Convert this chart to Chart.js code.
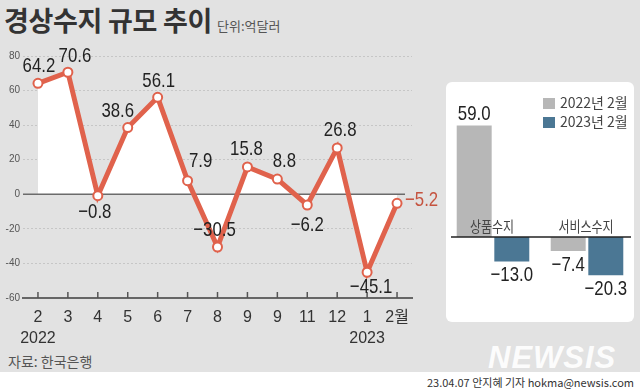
<!DOCTYPE html>
<html>
<head>
<meta charset="utf-8">
<script src="https://cdn.jsdelivr.net/npm/chart.js@4.4.0/dist/chart.umd.min.js"></script>
<style>
body{margin:0;width:640px;height:391px;background:#e2e2e2;position:relative;overflow:hidden;font-family:"Noto Sans CJK KR",sans-serif;}
#title{position:absolute;left:4px;top:1px;font-size:27px;font-weight:700;color:#333;line-height:38px;letter-spacing:-0.3px;white-space:nowrap}
#unit{font-size:13px;font-weight:400;color:#555;margin-left:5px;letter-spacing:0}
#lineChart{position:absolute;left:0;top:40px}
#panel{position:absolute;left:446px;top:82px;width:188px;height:240px;background:#fff;border-radius:6px}
#barChart{position:absolute;left:0;top:0}
#legend{position:absolute;left:97px;top:11px;font-size:14px;color:#444;line-height:19px}
#legend span{display:inline-block;width:12px;height:11px;margin-right:5px;vertical-align:-1px}
#source{position:absolute;left:8px;top:351px;font-size:14px;color:#555}
#footer{position:absolute;left:0;top:372px;width:640px;height:19px;background:#fff}
#credit{position:absolute;right:6px;top:2px;font-size:11px;color:#333;font-family:"Noto Sans CJK KR",sans-serif}
#mark{position:absolute;left:488px;top:340px;font-family:"Liberation Sans",sans-serif;font-weight:700;font-style:italic;font-size:31px;color:rgba(255,255,255,0.92);letter-spacing:1px}
</style>
</head>
<body>
<div id="title">경상수지 규모 추이<span id="unit">단위:억달러</span></div>
<canvas id="lineChart" width="445" height="310"></canvas>
<div id="panel">
  <canvas id="barChart" width="188" height="240"></canvas>
  <div id="legend"></div>
</div>
<div id="source">자료: 한국은행</div>
<div id="mark">NEWSIS</div>
<div id="footer"><div id="credit">23.04.07 안지혜 기자 hokma@newsis.com</div></div>
<script>
'use strict';

// ---- data: current account by month
var months=['2','3','4','5','6','7','8','9','9','11','12','1','2월'];
var years=['2022','','','','','','','','','','','2023',''];
var balance=[64.2,70.6,-0.8,38.6,56.1,7.9,-30.5,15.8,8.8,-6.2,26.8,-45.1,-5.2];
var yTicks=[-60,-40,-20,0,20,40,60,80];

// ---- data: goods / services, Feb
var sectors=['상품수지','서비스수지'];
var periods=['2022년 2월','2023년 2월'];
var feb2022=[59.0,-7.4];
var feb2023=[-13.0,-20.3];

var RED='#e0624c';
var GREY='#b7b7b7';
var BLUE='#4b7794';
var LABEL_FONT='21px "Liberation Sans",sans-serif';

// label placement for each point [dx, dy, align]
var labelOffsets=[[1,-17],[7,-16],[-3,17],[-10,-16],[1,-16],[13,-19],[-3,-17],[-1,-18],[7,-18],[0,20],[3,-18],[4,15],[8,-3,'left']];

function fmt(v){
    return v.toFixed(1).replace('-','−');
}

// condensed text, like the narrow face in the original
function narrowText(ctx,txt,x,y){
    ctx.save();
    ctx.translate(x,y);
    ctx.scale(0.8,1);
    ctx.fillText(txt,0,0);
    ctx.restore();
}

//-------- line chart
var xLabels=months.map(function(m,i){ return years[i] ? [m,years[i]] : m; });

var lineDecor={
    id:'lineDecor',
    beforeDatasetsDraw:function(chart){
        var ctx=chart.ctx, a=chart.chartArea;
        var y0=chart.scales.y.getPixelForValue(0);
        ctx.save();
        ctx.strokeStyle='#6b6b6b';
        ctx.lineWidth=1.5;
        ctx.beginPath(); ctx.moveTo(a.left,y0); ctx.lineTo(a.right-7,y0); ctx.stroke();
        ctx.strokeStyle='#555';
        for(var i=0;i<months.length;i++){
            var px=chart.scales.x.getPixelForValue(i);
            ctx.beginPath(); ctx.moveTo(px,a.bottom); ctx.lineTo(px,a.bottom-6); ctx.stroke();
        }
        ctx.restore();
    },
    afterDatasetsDraw:function(chart){
        var ctx=chart.ctx;
        var meta=chart.getDatasetMeta(0);
        ctx.save();
        ctx.font=LABEL_FONT;
        ctx.textBaseline='middle';
        meta.data.forEach(function(pt,i){
            var o=labelOffsets[i];
            ctx.textAlign=o[2]||'center';
            ctx.fillStyle= i===balance.length-1 ? '#c5533f' : '#222';
            narrowText(ctx,fmt(balance[i]),pt.x+o[0],pt.y+o[1]);
        });
        ctx.restore();
    }
};

var lineChart=new Chart(document.getElementById('lineChart'),{
    type:'line',
    data:{
        labels:xLabels,
        datasets:[{
            data:balance,
            borderColor:RED,
            borderWidth:5,
            backgroundColor:'#ffffff',
            fill:'origin',
            tension:0,
            pointRadius:4.5,
            pointBorderWidth:2,
            pointBorderColor:RED,
            pointBackgroundColor:'#ffffff'
        }]
    },
    options:{
        responsive:false,
        animation:false,
        layout:{padding:{top:16,right:33,left:0,bottom:0}},
        plugins:{legend:{display:false},tooltip:{enabled:false},filler:{drawTime:'beforeDatasetsDraw'}},
        scales:{
            x:{
                offset:true,
                grid:{display:true,drawOnChartArea:false,drawTicks:false},
                border:{display:true,color:'#666',width:2},
                ticks:{color:'#333',font:{size:16,family:'"Liberation Sans","Noto Sans CJK KR",sans-serif',lineHeight:1.3},padding:9,maxRotation:0,autoSkip:false},
                afterFit:function(s){ s.height=52; }
            },
            y:{
                min:-60,max:80,
                afterBuildTicks:function(s){ s.ticks=yTicks.map(function(v){ return {value:v}; }); },
                grid:{color:function(c){ return c.tick && c.tick.value===0 ? 'rgba(0,0,0,0)' : '#c6c6c6'; },drawTicks:false},
                border:{display:false,dash:[2,2]},
                ticks:{color:'#555',font:{size:10,family:'"Liberation Sans",sans-serif'},padding:3},
                afterFit:function(s){ s.width=23; }
            }
        }
    },
    plugins:[lineDecor]
});

//-------- bar chart
var barDecor={
    id:'barDecor',
    afterDatasetsDraw:function(chart){
        var ctx=chart.ctx, a=chart.chartArea;
        var y0=chart.scales.y.getPixelForValue(0);
        ctx.save();
        ctx.strokeStyle='#222';
        ctx.lineWidth=1.5;
        ctx.beginPath(); ctx.moveTo(a.left+5,y0); ctx.lineTo(a.right-3,y0); ctx.stroke();
        ctx.textAlign='center';
        ctx.textBaseline='middle';
        ctx.fillStyle='#444';
        ctx.font='15px "Noto Sans CJK KR",sans-serif';
        sectors.forEach(function(s,i){
            narrowText(ctx,s,chart.scales.x.getPixelForValue(i)-1,y0-11);
        });
        ctx.font=LABEL_FONT;
        ctx.fillStyle='#222';
        chart.data.datasets.forEach(function(ds,d){
            chart.getDatasetMeta(d).data.forEach(function(bar,i){
                var v=ds.data[i];
                narrowText(ctx,fmt(v),bar.x,v>=0 ? bar.y-11 : bar.y+14);
            });
        });
        ctx.restore();
    }
};

var barChart=new Chart(document.getElementById('barChart'),{
    type:'bar',
    data:{
        labels:sectors,
        datasets:[
            {label:periods[0],data:feb2022,backgroundColor:GREY,categoryPercentage:0.8,barPercentage:0.93},
            {label:periods[1],data:feb2023,backgroundColor:BLUE,categoryPercentage:0.8,barPercentage:0.93}
        ]
    },
    options:{
        responsive:false,
        animation:false,
        layout:{padding:0},
        plugins:{legend:{display:false},tooltip:{enabled:false}},
        scales:{
            x:{display:false},
            y:{display:false,min:-45,max:82}
        }
    },
    plugins:[barDecor]
});

// legend from dataset labels
var legend=document.getElementById('legend');
barChart.data.datasets.forEach(function(ds){
    var row=document.createElement('div');
    row.innerHTML='<span style="background:'+ds.backgroundColor+'"></span>'+ds.label;
    legend.appendChild(row);
});
</script>
</body>
</html>
